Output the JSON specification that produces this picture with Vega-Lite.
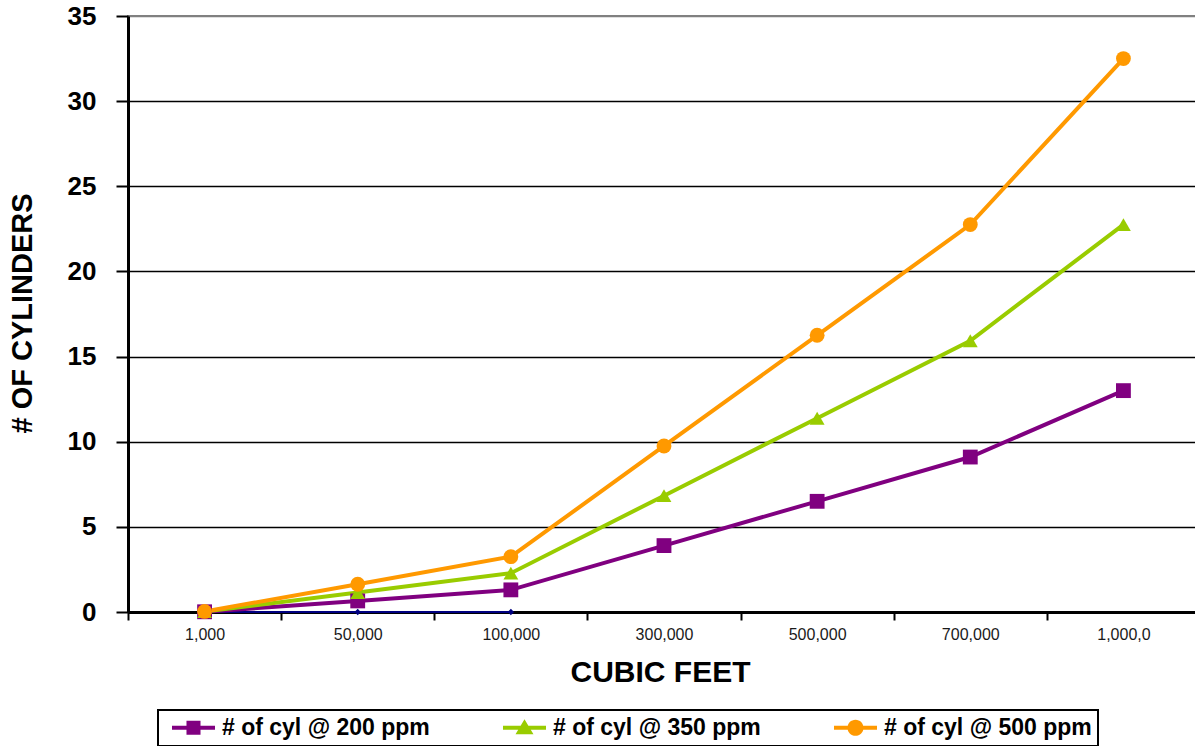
{
  "$schema": "https://vega.github.io/schema/vega-lite/v6.json",
  "width": 1072,
  "height": 596,
  "autosize": {"type": "none"},
  "padding": {"left": 128, "top": 16, "right": 0, "bottom": 134},
  "background": "white",
  "config": {
    "font": "Liberation Sans",
    "view": {"stroke": "#808080", "strokeWidth": 2},
    "legend": {"strokeWidth": 2}
  },
  "data": {
    "values": [
      {"cubic_feet": "1,000", "series": "baseline", "cylinders": 0},
      {"cubic_feet": "50,000", "series": "baseline", "cylinders": 0},
      {"cubic_feet": "100,000", "series": "baseline", "cylinders": 0},
      {"cubic_feet": "1,000", "series": "# of cyl @ 200 ppm", "cylinders": 0.013},
      {"cubic_feet": "50,000", "series": "# of cyl @ 200 ppm", "cylinders": 0.65},
      {"cubic_feet": "100,000", "series": "# of cyl @ 200 ppm", "cylinders": 1.3},
      {"cubic_feet": "300,000", "series": "# of cyl @ 200 ppm", "cylinders": 3.9},
      {"cubic_feet": "500,000", "series": "# of cyl @ 200 ppm", "cylinders": 6.5},
      {"cubic_feet": "700,000", "series": "# of cyl @ 200 ppm", "cylinders": 9.1},
      {"cubic_feet": "1,000,000", "series": "# of cyl @ 200 ppm", "cylinders": 13},
      {"cubic_feet": "1,000", "series": "# of cyl @ 350 ppm", "cylinders": 0.023},
      {"cubic_feet": "50,000", "series": "# of cyl @ 350 ppm", "cylinders": 1.14},
      {"cubic_feet": "100,000", "series": "# of cyl @ 350 ppm", "cylinders": 2.28},
      {"cubic_feet": "300,000", "series": "# of cyl @ 350 ppm", "cylinders": 6.83},
      {"cubic_feet": "500,000", "series": "# of cyl @ 350 ppm", "cylinders": 11.38},
      {"cubic_feet": "700,000", "series": "# of cyl @ 350 ppm", "cylinders": 15.93},
      {"cubic_feet": "1,000,000", "series": "# of cyl @ 350 ppm", "cylinders": 22.75},
      {"cubic_feet": "1,000", "series": "# of cyl @ 500 ppm", "cylinders": 0.033},
      {"cubic_feet": "50,000", "series": "# of cyl @ 500 ppm", "cylinders": 1.63},
      {"cubic_feet": "100,000", "series": "# of cyl @ 500 ppm", "cylinders": 3.25},
      {"cubic_feet": "300,000", "series": "# of cyl @ 500 ppm", "cylinders": 9.75},
      {"cubic_feet": "500,000", "series": "# of cyl @ 500 ppm", "cylinders": 16.25},
      {"cubic_feet": "700,000", "series": "# of cyl @ 500 ppm", "cylinders": 22.75},
      {"cubic_feet": "1,000,000", "series": "# of cyl @ 500 ppm", "cylinders": 32.5}
    ]
  },
  "encoding": {
    "x": {
      "field": "cubic_feet",
      "type": "nominal",
      "scale": {
        "type": "band",
        "domain": ["1,000", "50,000", "100,000", "300,000", "500,000", "700,000", "1,000,000"],
        "paddingInner": 0,
        "paddingOuter": 0
      },
      "axis": {
        "title": "CUBIC FEET",
        "titleFont": "Liberation Sans",
        "titleFontSize": 30,
        "titleFontWeight": "bold",
        "titleColor": "black",
        "titleX": 532,
        "titleY": 60,
        "titleAlign": "center",
        "titleBaseline": "middle",
        "labelAngle": 0,
        "labelFont": "Liberation Sans",
        "labelFontSize": 16,
        "labelColor": "#1a1a1a",
        "labelPadding": 6,
        "labelExpr": "datum.value === '1,000,000' ? '1,000,0' : datum.value",
        "tickBand": "extent",
        "tickSize": 8,
        "tickWidth": 2,
        "tickColor": "black",
        "domainColor": "black",
        "domainWidth": 3,
        "grid": false
      }
    },
    "y": {
      "field": "cylinders",
      "type": "quantitative",
      "scale": {"domain": [0, 35], "nice": false},
      "axis": {
        "values": [0, 5, 10, 15, 20, 25, 30, 35],
        "title": "# OF CYLINDERS",
        "titleFont": "Liberation Sans",
        "titleFontSize": 29,
        "titleFontWeight": "bold",
        "titleColor": "black",
        "titleAngle": -90,
        "titleX": -106,
        "titleY": 297,
        "titleAlign": "center",
        "titleBaseline": "middle",
        "labelFont": "Liberation Sans",
        "labelFontSize": 26,
        "labelFontWeight": "bold",
        "labelColor": "black",
        "labelPadding": 20,
        "tickSize": 12,
        "tickWidth": 2,
        "tickColor": "black",
        "domainColor": "black",
        "domainWidth": 3,
        "grid": true,
        "gridColor": {"condition": {"test": "datum.value >= 35", "value": "#808080"}, "value": "black"},
        "gridWidth": 1.5
      }
    }
  },
  "layer": [
    {
      "transform": [{"filter": "datum.series === 'baseline'"}],
      "mark": {"type": "line", "color": "#000080", "strokeWidth": 2}
    },
    {
      "transform": [{"filter": "datum.series === 'baseline'"}],
      "mark": {"type": "point", "shape": "diamond", "filled": true, "color": "#000080", "size": 40, "opacity": 1}
    },
    {
      "transform": [{"filter": "datum.series !== 'baseline'"}],
      "mark": {"type": "line", "strokeWidth": 4},
      "encoding": {
        "color": {
          "field": "series",
          "type": "nominal",
          "scale": {
            "domain": ["# of cyl @ 200 ppm", "# of cyl @ 350 ppm", "# of cyl @ 500 ppm"],
            "range": ["#800080", "#99CC00", "#FF9900"]
          },
          "legend": null
        }
      }
    },
    {
      "transform": [{"filter": "datum.series !== 'baseline'"}],
      "mark": {"type": "point", "filled": true, "opacity": 1, "size": 220},
      "encoding": {
        "color": {
          "field": "series",
          "type": "nominal",
          "scale": {
            "domain": ["# of cyl @ 200 ppm", "# of cyl @ 350 ppm", "# of cyl @ 500 ppm"],
            "range": ["#800080", "#99CC00", "#FF9900"]
          },
          "legend": null
        },
        "shape": {
          "field": "series",
          "type": "nominal",
          "scale": {
            "domain": ["# of cyl @ 200 ppm", "# of cyl @ 350 ppm", "# of cyl @ 500 ppm"],
            "range": ["square", "triangle-up", "circle"]
          },
          "legend": null
        }
      }
    },
    {
      "data": {"values": []},
      "mark": {"type": "point", "filled": true, "opacity": 1},
      "encoding": {
        "color": {
          "field": "series",
          "type": "nominal",
          "scale": {
            "domain": ["# of cyl @ 200 ppm", "# of cyl @ 350 ppm", "# of cyl @ 500 ppm"],
            "range": ["#800080", "#99CC00", "#FF9900"]
          },
          "legend": {
            "title": null,
            "orient": "none",
            "legendX": 30,
            "legendY": 694,
            "direction": "horizontal",
            "columns": 3,
            "strokeColor": "black",
            "padding": 6,
            "labelFont": "Liberation Sans",
            "labelFontSize": 23,
            "labelFontWeight": "bold",
            "labelColor": "black",
            "labelLimit": 500,
            "labelOffset": 17,
            "symbolOffset": 18,
            "symbolSize": 529,
            "symbolStrokeWidth": 0,
            "columnPadding": 65
          }
        },
        "shape": {
          "field": "series",
          "type": "nominal",
          "scale": {
            "domain": ["# of cyl @ 200 ppm", "# of cyl @ 350 ppm", "# of cyl @ 500 ppm"],
            "range": [
              "M-1.87,-0.17H1.87V0.17H-1.87Z M-0.61,-0.61H0.61V0.61H-0.61Z",
              "M-1.87,-0.17H1.87V0.17H-1.87Z M0,-0.74L0.78,0.57H-0.78Z",
              "M-1.87,-0.17H1.87V0.17H-1.87Z M-0.7,0A0.7,0.7 0 1,1 0.7,0A0.7,0.7 0 1,1 -0.7,0Z"
            ]
          },
          "legend": {
            "title": null,
            "orient": "none",
            "legendX": 30,
            "legendY": 694,
            "direction": "horizontal",
            "columns": 3,
            "strokeColor": "black",
            "padding": 6,
            "labelFont": "Liberation Sans",
            "labelFontSize": 23,
            "labelFontWeight": "bold",
            "labelColor": "black",
            "labelLimit": 500,
            "labelOffset": 17,
            "symbolOffset": 18,
            "symbolSize": 529,
            "symbolStrokeWidth": 0,
            "columnPadding": 65
          }
        }
      }
    }
  ],
  "resolve": {
    "scale": {"color": "independent", "shape": "independent"},
    "legend": {"color": "independent", "shape": "independent"}
  }
}
